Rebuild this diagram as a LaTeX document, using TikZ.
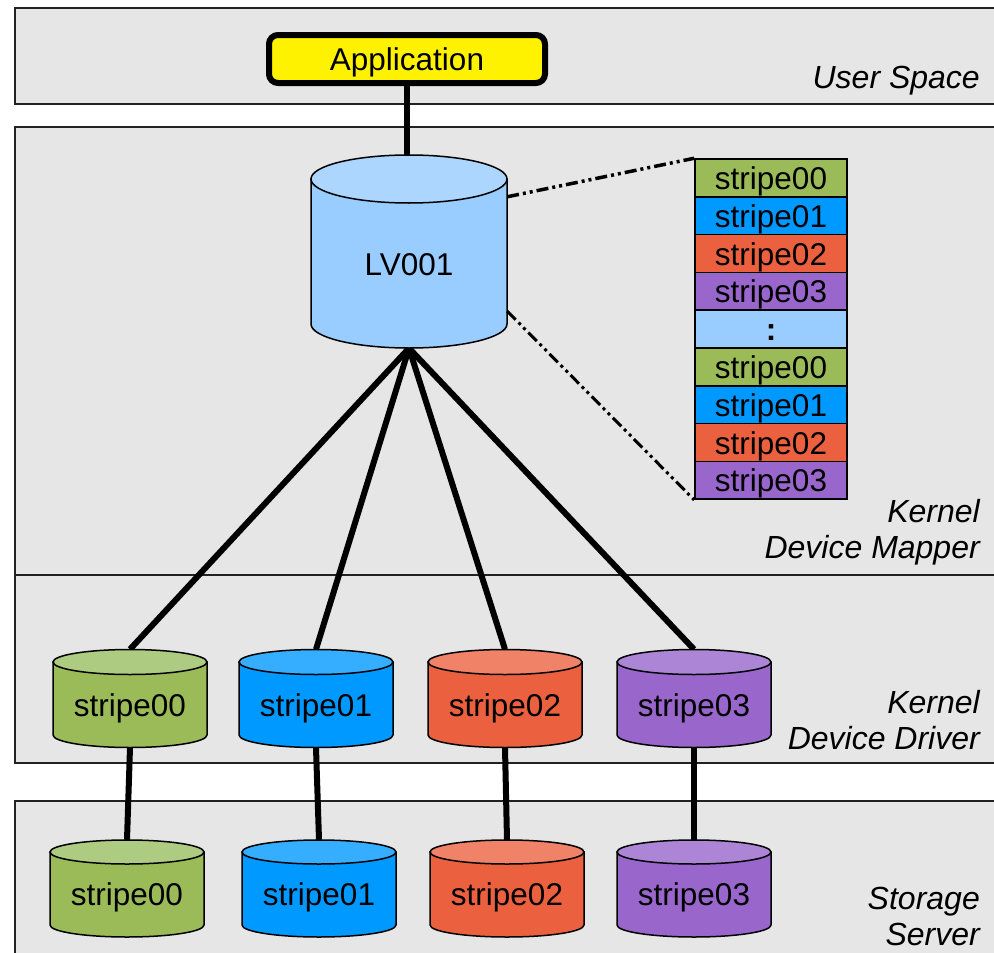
\documentclass[tikz,border=0pt]{standalone}
\usepackage{fontspec}
\setmainfont{Liberation Sans}
\pgfdeclarelayer{bg}
\pgfdeclarelayer{lines}
\pgfsetlayers{bg,lines,main}

\definecolor{bandgray}{HTML}{E6E6E6}
\definecolor{bandline}{HTML}{222222}
\definecolor{grnbody}{HTML}{9BBB59}
\definecolor{grntop}{HTML}{ADCC82}
\definecolor{blubody}{HTML}{0099FF}
\definecolor{blutop}{HTML}{36AEFF}
\definecolor{orgbody}{HTML}{EB6140}
\definecolor{orgtop}{HTML}{F08268}
\definecolor{purbody}{HTML}{9966CC}
\definecolor{purtop}{HTML}{AD85D6}
\definecolor{lvbody}{HTML}{99CCFF}
\definecolor{lvtop}{HTML}{ADD6FF}

% lower a text inside its node without changing the node's size
\newcommand\dn[2]{\raisebox{-#1}[\height][\depth]{#2}}

\tikzset{
  every node/.style={font=\fontsize{31.5}{36}\selectfont},
  band/.style={fill=bandgray, draw=bandline, line width=1.5pt},
  cylline/.style={draw=black, line width=1.5pt},
  link/.style={line width=6pt, line cap=butt},
  zoomline/.style={line width=3.5pt, dash pattern=on 12pt off 4pt on 3pt off 4pt on 3pt off 4pt},
  rowbox/.style={draw=black, line width=1.5pt, minimum width=152pt, minimum height=37.8pt, inner sep=0pt},
  layerlabel/.style={font=\fontsize{32}{36}\selectfont\itshape, align=right, anchor=east, inner sep=0pt},
}

% \cylnode{name}{cx}{top centre y}{bottom centre y}{rx}{ry}{body}{top}{text}
\newcommand\cylnode[9]{%
  \filldraw[cylline, fill=#7] ({#2-#5},#3) -- ({#2-#5},#4)
    arc[start angle=180, end angle=360, x radius=#5pt, y radius=#6pt]
    -- ({#2+#5},#3) -- cycle;
  \filldraw[cylline, fill=#8] (#2,#3) ellipse[x radius=#5pt, y radius=#6pt];
  \node[inner sep=0pt, minimum width={2*#5pt}, minimum height={(#4-#3+2*#6)*1pt}]
    (#1) at (#2,{(#3+#4)/2}) {#9};
}

\begin{document}
\begin{tikzpicture}[x=1pt, y=-1pt]
\useasboundingbox (0,0) rectangle (994,953);

% layer bands
\begin{pgfonlayer}{bg}
  \fill[white] (0,0) rectangle (994,953);
  \draw[band] (15,8) rectangle (1010,104);
  \draw[band] (15,127) rectangle (1010,575);
  \draw[band] (15,575) rectangle (1010,763);
  \draw[band] (15,801) rectangle (1010,970);
\end{pgfonlayer}

% layer names
\node[layerlabel] (lusr) at (980,81) {User Space};
\node[layerlabel] (lmap) at (980,532) {Kernel\\Device Mapper};
\node[layerlabel] (ldrv) at (980,720) {Kernel\\Device Driver};
\node[layerlabel] (lsto) at (980,916) {Storage\\Server};

% application
\node[draw=black, fill=yellow, line width=6pt, rounded corners=9pt,
      minimum width=276pt, minimum height=48pt, inner sep=0pt]
  (app) at (407,59) {\dn{3pt}{Application}};

% logical volume
\cylnode{lv}{409}{179}{324}{98}{24}{lvbody}{lvtop}{\dn{13pt}{LV001}}

% device driver volumes
\cylnode{d0}{130}{662}{735}{77}{12.5}{grnbody}{grntop}{\dn{10pt}{stripe00}}
\cylnode{d1}{316}{662}{735}{77}{12.5}{blubody}{blutop}{\dn{10pt}{stripe01}}
\cylnode{d2}{505}{662}{735}{77}{12.5}{orgbody}{orgtop}{\dn{10pt}{stripe02}}
\cylnode{d3}{694}{662}{735}{77}{12.5}{purbody}{purtop}{\dn{10pt}{stripe03}}

% storage server volumes
\cylnode{s0}{127}{852}{925}{77}{12}{grnbody}{grntop}{\dn{9pt}{stripe00}}
\cylnode{s1}{319}{852}{925}{77}{12}{blubody}{blutop}{\dn{9pt}{stripe01}}
\cylnode{s2}{507}{852}{925}{77}{12}{orgbody}{orgtop}{\dn{9pt}{stripe02}}
\cylnode{s3}{694}{852}{925}{77}{12}{purbody}{purtop}{\dn{9pt}{stripe03}}

% stripe layout of the logical volume
\node[rowbox, fill=grnbody] (r1) at (771,177.9) {\dn{3.5pt}{stripe00}};
\node[rowbox, fill=blubody] (r2) at (771,215.7) {\dn{3.5pt}{stripe01}};
\node[rowbox, fill=orgbody] (r3) at (771,253.5) {\dn{3.5pt}{stripe02}};
\node[rowbox, fill=purbody] (r4) at (771,291.3) {\dn{3.5pt}{stripe03}};
\node[rowbox, fill=lvbody]  (r5) at (771,329.1) {\dn{3.5pt}{\textbf{:}}};
\node[rowbox, fill=grnbody] (r6) at (771,366.9) {\dn{3.5pt}{stripe00}};
\node[rowbox, fill=blubody] (r7) at (771,404.7) {\dn{3.5pt}{stripe01}};
\node[rowbox, fill=orgbody] (r8) at (771,442.5) {\dn{3.5pt}{stripe02}};
\node[rowbox, fill=purbody] (r9) at (771,480.3) {\dn{3.5pt}{stripe03}};

% connectors
\begin{pgfonlayer}{lines}
  \draw[link] (app.south) -- (app.south |- lv.north);
  \draw[link] (lv.south) -- (d0.north);
  \draw[link] (lv.south) -- (d1.north);
  \draw[link] (lv.south) -- (d2.north);
  \draw[link] (lv.south) -- (d3.north);
  \draw[link] (d0.south) -- (s0.north);
  \draw[link] (d1.south) -- (s1.north);
  \draw[link] (d2.south) -- (s2.north);
  \draw[link] (d3.south) -- (s3.north);
\end{pgfonlayer}
\draw[zoomline] ([yshift=-42pt]lv.north east) -- (r1.north west);
\draw[zoomline, line width=3pt] ([yshift=37pt]lv.south east) -- (r9.south west);
\end{tikzpicture}
\end{document}
